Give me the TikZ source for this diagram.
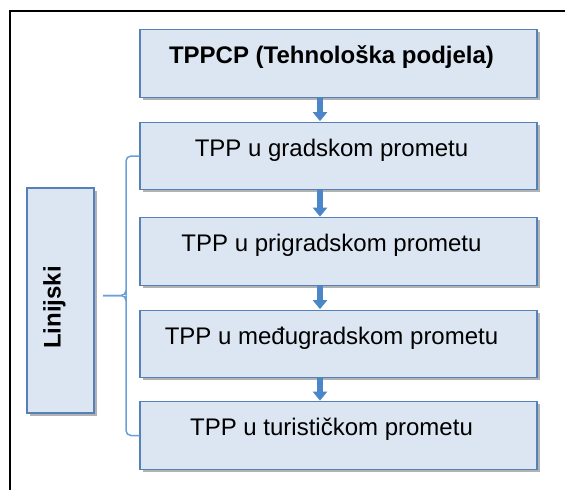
\documentclass[tikz,border=0pt]{standalone}
\usepackage{fontspec}
\setmainfont{Liberation Sans}
\usetikzlibrary{shadows,arrows.meta}
\definecolor{boxfill}{HTML}{DCE6F2}
\definecolor{boxline}{HTML}{5581B8}
\definecolor{arrowcol}{HTML}{4A86C8}
\definecolor{bracecol}{HTML}{6A9FD8}
\tikzset{
  stagebox/.style={draw=boxline, line width=1.2pt, fill=boxfill, rectangle,
    minimum width=397pt, minimum height=67.5pt, inner sep=0pt,
    text height=12pt, text depth=12pt,
    font=\fontsize{24}{28}\selectfont,
    execute at end node={\kern14pt},
    drop shadow={shadow xshift=2.5pt, shadow yshift=-2.5pt, fill=black, opacity=0.3}},
  sidebox/.style={stagebox, minimum width=225pt, minimum height=67pt, rotate=90,
    font=\fontsize{24}{28}\selectfont\bfseries},
  flowarrow/.style={draw=arrowcol, line width=6pt,
    -{Triangle[width=14pt,length=9pt]}, shorten >=0.5pt},
  bracket/.style={draw=bracecol, line width=1.5pt, rounded corners=5pt},
  frameline/.style={draw=black, line width=2.5pt}
}
\begin{document}
\begin{tikzpicture}[x=1pt,y=-1pt]
\useasboundingbox (0,0) rectangle (565,490);
\draw[frameline] (10,490) -- (10,11) -- (566,11);
\node[stagebox, font=\fontsize{24}{28}\selectfont\bfseries] (b1) at (338.5,63.5) {TPPCP (Tehnološka podjela)};
\node[stagebox] (b2) at (338.5,156) {TPP u gradskom prometu};
\node[stagebox] (b3) at (338.5,251.5) {TPP u prigradskom prometu};
\node[stagebox] (b4) at (338.5,344) {TPP u međugradskom prometu};
\node[stagebox] (b5) at (338.5,435.5) {TPP u turističkom prometu};
\node[sidebox] (lin) at (60.5,300.5) {Linijski};
\coordinate (ax) at (320,0);
\draw[flowarrow] (b1.south -| ax) -- (b2.north -| ax);
\draw[flowarrow] (b2.south -| ax) -- (b3.north -| ax);
\draw[flowarrow] (b3.south -| ax) -- (b4.north -| ax);
\draw[flowarrow] (b4.south -| ax) -- (b5.north -| ax);
\coordinate (bx) at (126,0);
\coordinate (bm) at (126,295.5);
\coordinate (tip) at (103,295.5);
\draw[bracket] (b2.west) -- (b2.west -| bx) -- ([yshift=5pt]bm) -- (bm) -- (tip);
\draw[bracket] (tip) -- (bm) -- ([yshift=-5pt]bm) -- (b5.west -| bx) -- (b5.west);
\end{tikzpicture}
\end{document}
